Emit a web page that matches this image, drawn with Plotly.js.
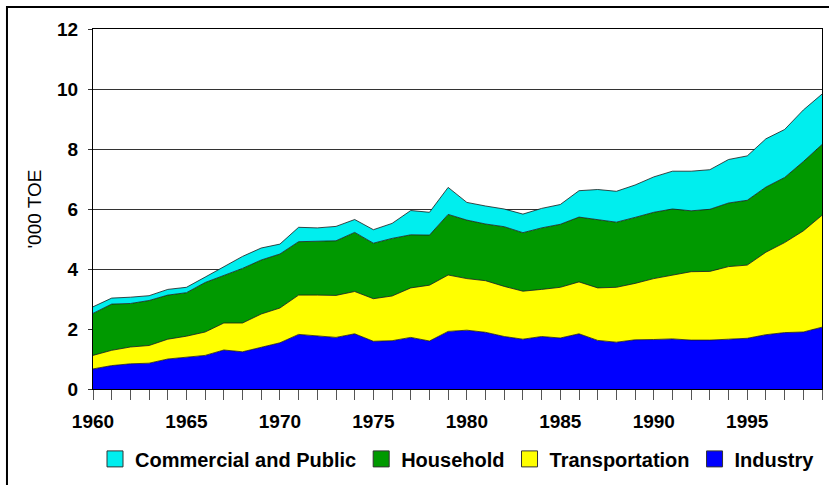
<!DOCTYPE html>
<html>
<head>
<meta charset="utf-8">
<script src="https://cdn.plot.ly/plotly-3.0.1.min.js"></script>
<style>
  html, body { margin: 0; padding: 0; background: #ffffff; }
  #chart { width: 829px; height: 485px; }
</style>
</head>
<body>
<div id="chart"></div>
<script>
const years = [1960,1961,1962,1963,1964,1965,1966,1967,1968,1969,
               1970,1971,1972,1973,1974,1975,1976,1977,1978,1979,
               1980,1981,1982,1983,1984,1985,1986,1987,1988,1989,
               1990,1991,1992,1993,1994,1995,1996,1997,1998,1999];

const industry = [0.67,0.78,0.84,0.86,1.00,1.06,1.12,1.30,1.24,1.39,
                  1.54,1.82,1.78,1.72,1.84,1.59,1.61,1.72,1.60,1.92,
                  1.96,1.89,1.75,1.66,1.75,1.70,1.84,1.62,1.56,1.64,
                  1.65,1.67,1.63,1.63,1.66,1.69,1.81,1.88,1.90,2.06];

const transportation = [0.45,0.51,0.56,0.59,0.66,0.70,0.78,0.90,0.96,1.11,
                        1.16,1.31,1.35,1.40,1.41,1.42,1.49,1.65,1.86,1.88,
                        1.72,1.72,1.67,1.60,1.57,1.69,1.73,1.75,1.83,1.88,
                        2.03,2.13,2.28,2.29,2.42,2.44,2.75,3.00,3.37,3.73];

const household = [1.40,1.54,1.45,1.50,1.47,1.45,1.65,1.59,1.82,1.80,
                   1.80,1.78,1.80,1.82,1.97,1.85,1.92,1.77,1.67,2.02,
                   1.95,1.89,1.99,1.95,2.05,2.10,2.16,2.28,2.17,2.20,
                   2.21,2.20,2.03,2.07,2.12,2.16,2.17,2.17,2.31,2.36];

const commercial = [0.22,0.20,0.21,0.16,0.19,0.18,0.18,0.29,0.40,0.40,
                    0.33,0.48,0.44,0.48,0.43,0.45,0.50,0.81,0.76,0.90,
                    0.59,0.60,0.59,0.62,0.65,0.66,0.88,1.00,1.03,1.08,
                    1.18,1.26,1.32,1.32,1.45,1.48,1.61,1.60,1.72,1.68];

const seriesNames = ['Industry','Transportation','Household','Commercial and Public'];
const seriesColors = ['#0000ff','#ffff00','#009900','#00eeee'];
const seriesValues = [industry, transportation, household, commercial];
const yTitle = "'000 TOE";

const FONT = 'Liberation Sans, Arial, Helvetica, sans-serif';

const traces = [];
seriesValues.forEach((vals, i) => {
  traces.push({
    type: 'scatter',
    x: years,
    y: vals,
    name: seriesNames[i],
    stackgroup: 'one',
    mode: 'lines',
    line: {color: '#1a1a1a', width: 0.8},
    fillcolor: seriesColors[i],
    showlegend: false,
    hoverinfo: 'x+y+name'
  });
});
// legend entries (square swatches), listed in the reference's legend order
[3, 2, 1, 0].forEach(i => {
  traces.push({
    type: 'scatter',
    x: [null],
    y: [null],
    name: seriesNames[i],
    mode: 'markers',
    marker: {symbol: 'square', size: 17, color: seriesColors[i], line: {color: '#333333', width: 1}},
    showlegend: true
  });
});

const layout = {
  width: 829,
  height: 485,
  margin: {l: 93, r: 7, t: 29, b: 93, pad: 0},
  paper_bgcolor: '#ffffff',
  plot_bgcolor: '#ffffff',
  font: {family: FONT, color: '#000000'},
  showlegend: true,
  legend: {
    orientation: 'h',
    x: 0.5, xanchor: 'center',
    y: -0.14, yanchor: 'top',
    font: {family: FONT, size: 20, weight: 'bold', color: '#000000'},
    traceorder: 'normal',
    itemsizing: 'trace',
    bgcolor: 'rgba(0,0,0,0)'
  },
  xaxis: {
    range: [1960, 1999],
    tickmode: 'linear',
    tick0: 1960,
    dtick: 5,
    ticks: 'outside',
    ticklen: 10,
    tickcolor: '#555555',
    tickwidth: 1,
    ticklabelstandoff: 5,
    minor: {dtick: 1, tick0: 1960, ticks: 'outside', ticklen: 10, tickcolor: '#555555', tickwidth: 1, showgrid: false},
    showgrid: false,
    zeroline: false,
    showline: true,
    linecolor: '#000000',
    linewidth: 1,
    mirror: true,
    tickfont: {family: FONT, size: 19, weight: 'bold', color: '#000000'},
    fixedrange: true
  },
  yaxis: {
    range: [0, 12],
    tickmode: 'linear',
    tick0: 0,
    dtick: 2,
    ticks: 'outside',
    ticklen: 4,
    tickcolor: '#333333',
    ticklabelstandoff: 6,
    showgrid: true,
    gridcolor: '#333333',
    gridwidth: 1,
    zeroline: false,
    showline: true,
    linecolor: '#000000',
    linewidth: 1,
    mirror: true,
    tickfont: {family: FONT, size: 19, weight: 'bold', color: '#000000'},
    title: {text: yTitle, font: {family: FONT, size: 19, color: '#000000'}, standoff: 10},
    automargin: false,
    fixedrange: true
  },
  shapes: [{
    type: 'rect',
    xref: 'paper', yref: 'paper',
    x0: -0.118, x1: 1.2,
    y0: -0.35, y1: 1.0614,
    line: {color: '#000000', width: 2},
    fillcolor: 'rgba(0,0,0,0)',
    layer: 'below'
  }]
};

Plotly.newPlot('chart', traces, layout, {displayModeBar: false, staticPlot: true});
</script>
</body>
</html>
